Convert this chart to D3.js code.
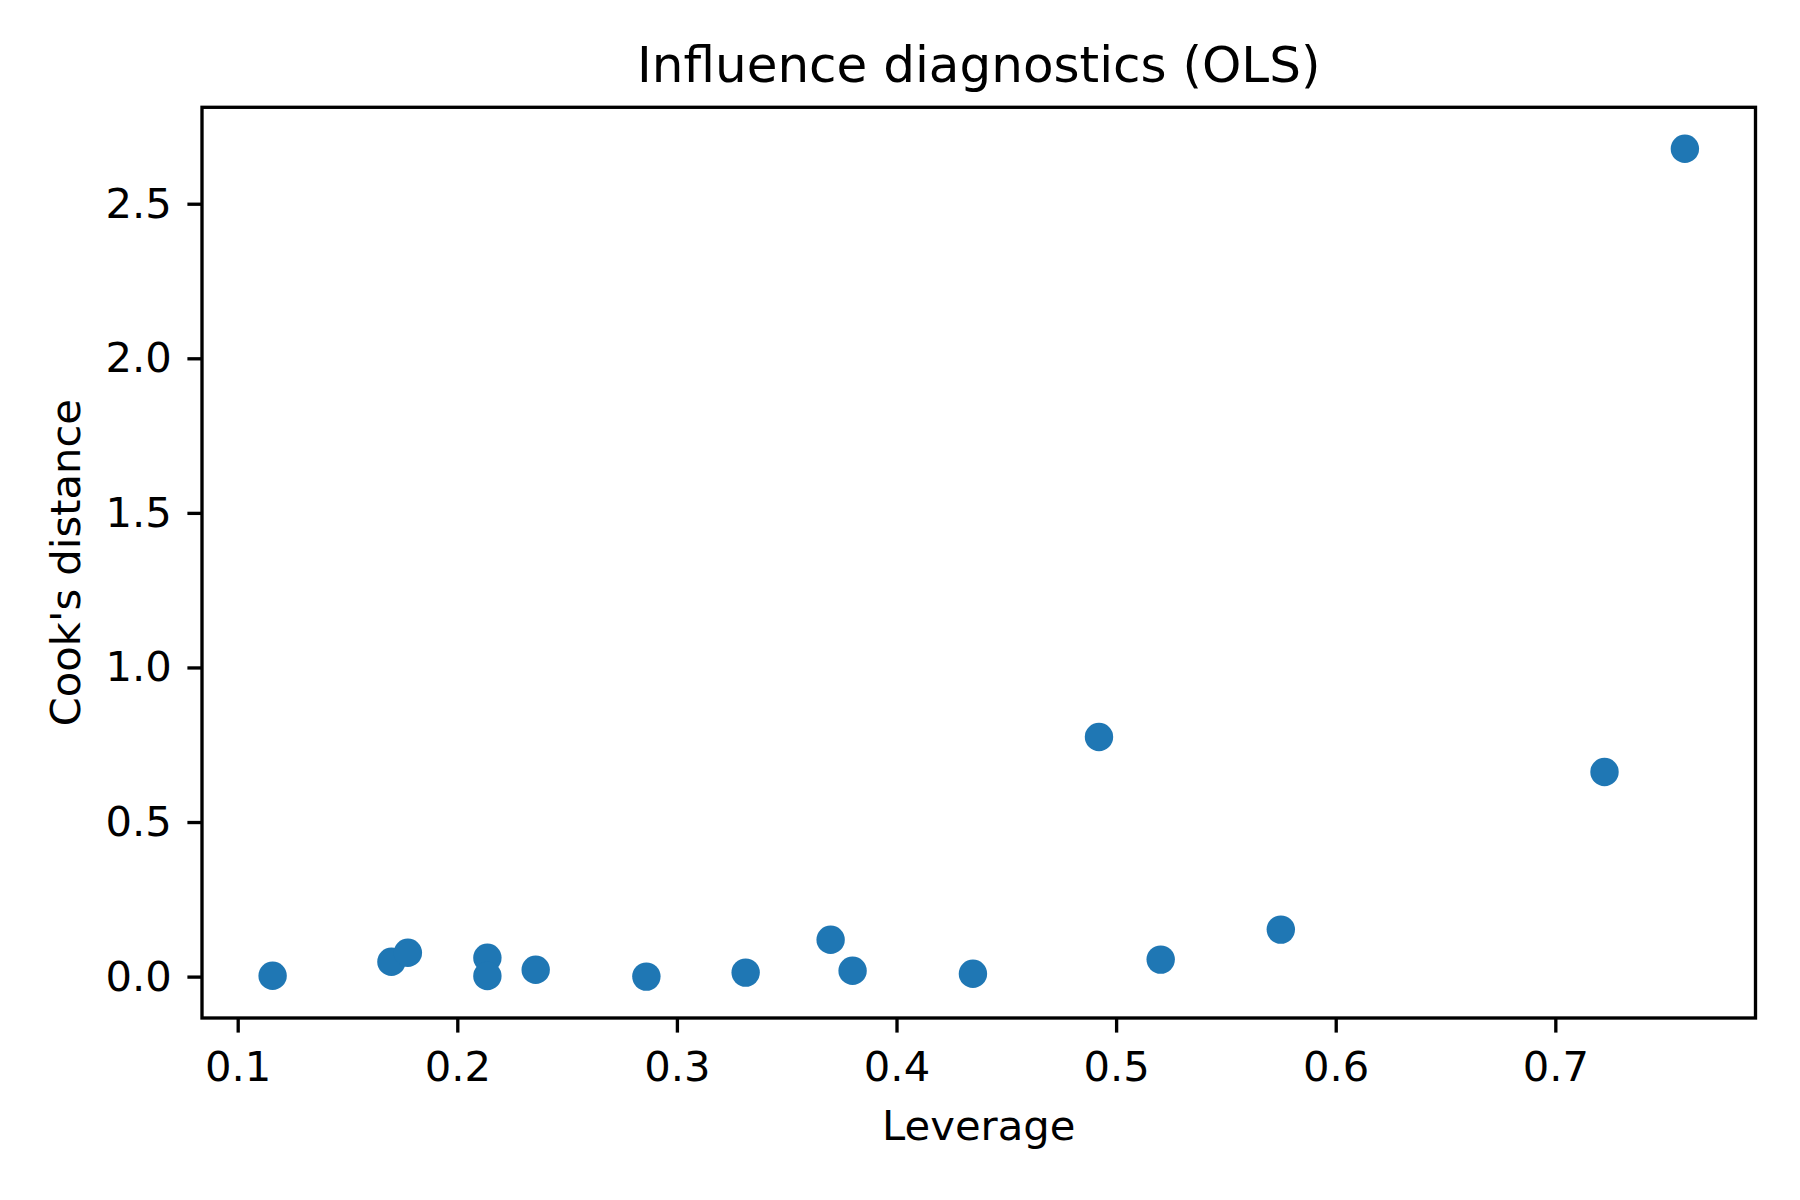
<!DOCTYPE html>
<html>
<head>
<meta charset="utf-8">
<script src="https://cdn.jsdelivr.net/npm/d3@7"></script>
<style>
  html, body { margin: 0; padding: 0; background: #fff; }
  text { font-family: "DejaVu Sans", sans-serif; fill: #000; }
</style>
</head>
<body>
<svg id="chart" width="1800" height="1200"></svg>
<script>
// Data
const leverage = [0.1159, 0.1700, 0.1775, 0.2137, 0.2137, 0.2357, 0.2861, 0.3313, 0.3700, 0.3800, 0.4348, 0.4922, 0.5203, 0.5750, 0.7224, 0.7590];
const cooksD   = [0.003, 0.048, 0.077, 0.061, 0.002, 0.022, 0.000, 0.013, 0.119, 0.019, 0.009, 0.775, 0.055, 0.152, 0.662, 2.678];
const xTicks = [0.1, 0.2, 0.3, 0.4, 0.5, 0.6, 0.7];
const yTicks = [0.0, 0.5, 1.0, 1.5, 2.0, 2.5];
const title = "Influence diagnostics (OLS)";
const xLabel = "Leverage";
const yLabel = "Cook's distance";

const W = 1800, H = 1200;
const L = 202, R = 1755.5, T = 107.3, B = 1018;

const svg = d3.select("#chart");

const xmin = d3.min(leverage), xmax = d3.max(leverage);
const ymin = d3.min(cooksD), ymax = d3.max(cooksD);
const xpad = (xmax - xmin) * 0.05, ypad = (ymax - ymin) * 0.05;

const x = d3.scaleLinear().domain([xmin - xpad, xmax + xpad]).range([L, R]);
const y = d3.scaleLinear().domain([ymin - ypad, ymax + ypad]).range([B, T]);

const tickLen = 14.6, lw = 3.33, fs = 41.7;

// points
svg.append("g").selectAll("circle")
  .data(leverage.map((d, i) => [d, cooksD[i]]))
  .join("circle")
  .attr("cx", d => x(d[0]))
  .attr("cy", d => y(d[1]))
  .attr("r", 14.2)
  .attr("fill", "#1f77b4");

// x axis
const xa = svg.append("g").attr("transform", `translate(0,${B})`)
  .call(d3.axisBottom(x).tickValues(xTicks).tickFormat(d3.format(".1f")).tickSize(tickLen).tickPadding(14.6));
xa.select(".domain").remove();
xa.selectAll(".tick line").attr("stroke", "#000").attr("stroke-width", lw);
xa.selectAll(".tick text").attr("font-size", fs).attr("font-family", "DejaVu Sans").attr("dy", null)
  .attr("y", 1080.7 - B).attr("fill", "#000");

// y axis
const ya = svg.append("g").attr("transform", `translate(${L},0)`)
  .call(d3.axisLeft(y).tickValues(yTicks).tickFormat(d3.format(".1f")).tickSize(tickLen).tickPadding(14.6));
ya.select(".domain").remove();
ya.selectAll(".tick line").attr("stroke", "#000").attr("stroke-width", lw);
ya.selectAll(".tick text").attr("font-size", fs).attr("font-family", "DejaVu Sans").attr("dy", null)
  .attr("y", 13.4).attr("x", -(tickLen + 15.5)).attr("fill", "#000");

// frame
svg.append("rect")
  .attr("x", L).attr("y", T).attr("width", R - L).attr("height", B - T)
  .attr("fill", "none").attr("stroke", "#000").attr("stroke-width", lw)
  .attr("stroke-linejoin", "miter");

// title
svg.append("text").attr("x", (L + R) / 2).attr("y", 81.7)
  .attr("text-anchor", "middle").attr("font-size", 50).text(title);

// x label
svg.append("text").attr("x", (L + R) / 2).attr("y", 1140)
  .attr("text-anchor", "middle").attr("font-size", fs).text(xLabel);

// y label
svg.append("text")
  .attr("transform", `translate(80,${(T + B) / 2}) rotate(-90)`)
  .attr("text-anchor", "middle").attr("font-size", fs).text(yLabel);
</script>
</body>
</html>
